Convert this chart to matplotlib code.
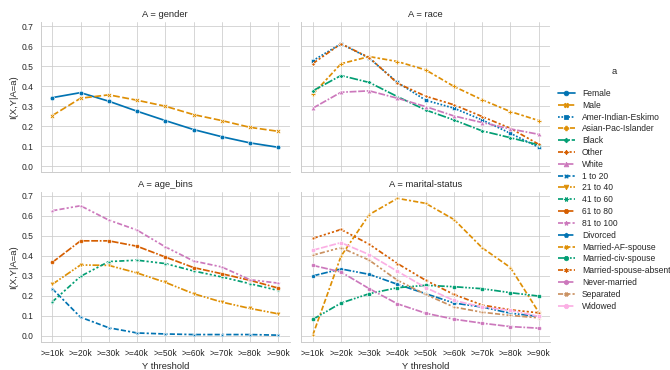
import matplotlib
matplotlib.use("Agg")
import matplotlib.pyplot as plt
import numpy as np
import pandas as pd
import seaborn as sns

THRESHOLDS = [">=10k", ">=20k", ">=30k", ">=40k", ">=50k",
              ">=60k", ">=70k", ">=80k", ">=90k"]

GROUPS = ["gender", "race", "age_bins", "marital-status"]

GENDER = {
    "Female": [0.343, 0.368, 0.325, 0.275, 0.228, 0.183, 0.147, 0.116, 0.094],
    "Male": [0.253, 0.340, 0.357, 0.330, 0.300, 0.258, 0.228, 0.194, 0.174],
}

RACE = {
    "Amer-Indian-Eskimo": [0.528, 0.613, 0.541, 0.419, 0.330, 0.290, 0.231, 0.164, 0.094],
    "Asian-Pac-Islander": [0.360, 0.513, 0.549, 0.524, 0.482, 0.399, 0.332, 0.273, 0.228],
    "Black": [0.377, 0.454, 0.419, 0.348, 0.281, 0.231, 0.176, 0.142, 0.106],
    "Other": [0.514, 0.613, 0.544, 0.415, 0.350, 0.307, 0.248, 0.189, 0.109],
    "White": [0.290, 0.370, 0.377, 0.340, 0.298, 0.251, 0.218, 0.186, 0.159],
}

AGE_BINS = {
    "1 to 20": [0.235, 0.092, 0.039, 0.013, 0.008, 0.005, 0.005, 0.005, 0.002],
    "21 to 40": [0.257, 0.354, 0.352, 0.314, 0.267, 0.210, 0.168, 0.136, 0.109],
    "41 to 60": [0.169, 0.297, 0.371, 0.378, 0.361, 0.324, 0.294, 0.260, 0.226],
    "61 to 80": [0.367, 0.475, 0.475, 0.448, 0.394, 0.341, 0.310, 0.277, 0.238],
    "81 to 100": [0.626, 0.651, 0.579, 0.529, 0.445, 0.374, 0.344, 0.280, 0.263],
}

MARITAL = {
    "Divorced": [0.299, 0.334, 0.307, 0.257, 0.210, 0.163, 0.143, 0.112, 0.096],
    "Married-AF-spouse": [0.002, 0.398, 0.607, 0.688, 0.663, 0.582, 0.440, 0.341, 0.117],
    "Married-civ-spouse": [0.081, 0.163, 0.210, 0.240, 0.252, 0.245, 0.235, 0.215, 0.198],
    "Married-spouse-absent": [0.487, 0.532, 0.458, 0.361, 0.277, 0.206, 0.153, 0.129, 0.114],
    "Never-married": [0.352, 0.319, 0.235, 0.159, 0.112, 0.082, 0.062, 0.045, 0.037],
    "Separated": [0.403, 0.441, 0.378, 0.277, 0.206, 0.143, 0.117, 0.101, 0.089],
    "Widowed": [0.428, 0.466, 0.406, 0.322, 0.240, 0.176, 0.143, 0.126, 0.096],
}

DPI = 56


def build_frame():
    rows = []
    palette = {}
    cb = sns.color_palette("colorblind")
    for group, values in zip(GROUPS, [GENDER, RACE, AGE_BINS, MARITAL]):
        for k, (level, ys) in enumerate(values.items()):
            palette[level] = cb[k]
            for t, y in zip(THRESHOLDS, ys):
                rows.append({"A": group, "a": level, "Y threshold": t,
                             "I(X,Y|A=a)": y})
    return pd.DataFrame(rows), palette


if __name__ == '__main__':
    sns.set_theme(style="whitegrid")
    plt.rcParams['font.family'] = ['Liberation Sans', 'DejaVu Sans']
    plt.rcParams['legend.labelspacing'] = 0.33
    df, palette = build_frame()
    g = sns.relplot(data=df, x="Y threshold", y="I(X,Y|A=a)", hue="a",
                    style="a", markers=True, palette=palette, col="A",
                    col_wrap=2, kind="line", height=3, aspect=1.5,
                    linewidth=2.2)
    g.set_titles("A = {col_name}")
    g.set(yticks=np.arange(0, 0.71, 0.1))
    g.figure.set_size_inches(670 / DPI, 370 / DPI)
    g.figure.subplots_adjust(left=41 / 670, right=550 / 670,
                             top=1 - 22 / 370, bottom=1 - 342 / 370,
                             wspace=12 / 250, hspace=19 / 150)
    leg = g._legend
    leg.set_title("a\n")
    leg.set_bbox_to_anchor((1.0 + 8 / 670, 0.49), transform=g.figure.transFigure)
    leg.set_loc("center right")
    g.figure.savefig("out.png", dpi=DPI)
